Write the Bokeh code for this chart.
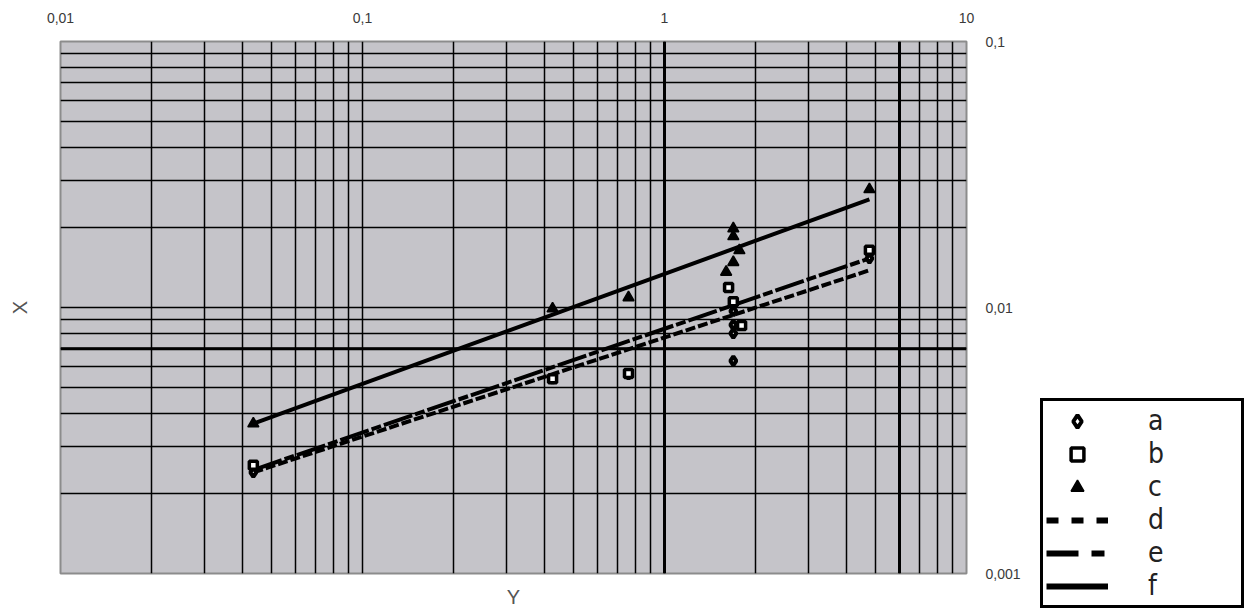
from bokeh.plotting import figure
from bokeh.models import (FixedTicker, Span, Legend, LegendItem, Range1d,
                          LogAxis, Spacer)
from bokeh.layouts import row, column
from bokeh.embed import file_html
from bokeh.resources import INLINE

# ---- data ----
a_x = [0.0435, 0.426, 0.76, 1.69, 1.69, 1.69, 1.69, 4.77]
a_y = [0.00240, 0.0054, 0.0056, 0.0097, 0.0086, 0.0080, 0.0063, 0.0153]

b_x = [0.0435, 0.426, 0.76, 1.63, 1.69, 1.80, 4.77]
b_y = [0.00255, 0.0054, 0.00565, 0.0119, 0.0105, 0.00855, 0.0164]

c_x = [0.0435, 0.426, 0.76, 1.69, 1.69, 1.77, 1.69, 1.60, 4.77]
c_y = [0.00366, 0.0099, 0.0109, 0.0198, 0.0185, 0.0164, 0.0148, 0.0136, 0.0278]

d_x = [0.0435, 4.77]
d_y = [0.00240, 0.0138]
e_x = [0.0435, 4.77]
e_y = [0.00245, 0.0153]
f_x = [0.0435, 4.77]
f_y = [0.00366, 0.0255]

x_major = [0.01, 0.1, 1, 10]
x_labels = ["0,01", "0,1", "1", "10"]
y_major = [0.001, 0.01, 0.1]
y_labels = ["0,001", "0,01", "0,1"]
thick_x = [1, 6]
thick_y = [0.007]

series_names = ["a", "b", "c", "d", "e", "f"]
x_title = "X"
y_title = "Y"

# ---- main figure ----
p = figure(width=1038, height=614, x_axis_type="log", y_axis_type="log",
           x_range=Range1d(0.01, 10), y_range=Range1d(0.001, 0.1),
           x_axis_location="above", y_axis_location="right",
           output_backend="svg", toolbar_location=None,
           min_border_left=60, min_border_right=72,
           min_border_top=41, min_border_bottom=41)

p.background_fill_color = "#c5c4c9"
p.border_fill_color = "white"
p.outline_line_color = "#8c8c8c"
p.outline_line_width = 2

def minors(majors):
    out = []
    for m in majors[:-1]:
        out += [m * k for k in range(2, 10)]
    return out

top_ax = p.xaxis[0]
right_ax = p.yaxis[0]
top_ax.ticker = FixedTicker(ticks=x_major, minor_ticks=minors(x_major))
right_ax.ticker = FixedTicker(ticks=y_major, minor_ticks=minors(y_major))
top_ax.major_label_overrides = {v: s for v, s in zip(x_major, x_labels)}
right_ax.major_label_overrides = {v: s for v, s in zip(y_major, y_labels)}

for ax in (top_ax, right_ax):
    ax.axis_line_color = None
    ax.major_tick_line_color = None
    ax.minor_tick_line_color = None
    ax.major_label_text_font = "Liberation Sans"
    ax.major_label_text_font_size = "14px"
    ax.major_label_text_color = "#3a3a3a"
    ax.major_label_standoff = 13

for g in (p.xgrid, p.ygrid):
    g.grid_line_color = "black"
    g.grid_line_width = 1.5
    g.grid_line_alpha = 1
    g.minor_grid_line_color = "black"
    g.minor_grid_line_width = 1.5

# axis titles on their own (tick-less) axes
left_ax = LogAxis(axis_label=x_title, ticker=FixedTicker(ticks=[]),
                  axis_line_color=None, major_tick_line_color=None,
                  minor_tick_line_color=None, axis_label_standoff=30,
                  axis_label_text_font="Liberation Sans",
                  axis_label_text_font_style="normal",
                  axis_label_text_font_size="20px",
                  axis_label_text_color="#555555")
p.add_layout(left_ax, "left")
bottom_ax = LogAxis(axis_label=y_title, ticker=FixedTicker(ticks=[]),
                    axis_line_color=None, major_tick_line_color=None,
                    minor_tick_line_color=None, axis_label_standoff=12,
                    axis_label_text_font="Liberation Sans",
                    axis_label_text_font_style="normal",
                    axis_label_text_font_size="20px",
                    axis_label_text_color="#555555")
p.add_layout(bottom_ax, "below")

for v in thick_x:
    p.add_layout(Span(location=v, dimension="height", line_color="black", line_width=3))
for v in thick_y:
    p.add_layout(Span(location=v, dimension="width", line_color="black", line_width=3))

# lines
p.line(d_x, d_y, line_color="black", line_width=4, line_dash="10 3")
p.line(e_x, e_y, line_color="black", line_width=4, line_dash="30 3 10 3")
p.line(f_x, f_y, line_color="black", line_width=4)

# markers
MK = dict(
    a=dict(marker="diamond", size=9, fill_color="white", line_color="black", line_width=4),
    b=dict(marker="square", size=8, fill_color="white", line_color="black", line_width=3.5),
    c=dict(marker="triangle", size=11, fill_color="black", line_color="black", line_width=1.5),
)
p.scatter(a_x, a_y, **MK["a"])
p.scatter(b_x, b_y, **MK["b"])
p.scatter(c_x, c_y, **MK["c"])

# ---- legend panel (series drawn out of view, only their legend keys show) ----
p2 = figure(width=206, height=214, x_range=Range1d(1000, 1001),
            y_range=Range1d(1000, 1001),
            x_axis_location=None, y_axis_location=None,
            output_backend="svg", toolbar_location=None,
            min_border=0)
p2.grid.visible = False
p2.outline_line_color = None
p2.background_fill_color = "white"

la = p2.scatter(a_x, a_y, **MK["a"])
lb = p2.scatter(b_x, b_y, **MK["b"])
lc = p2.scatter(c_x, c_y, **MK["c"])
ld = p2.line(d_x, d_y, line_color="black", line_width=6, line_dash="12 13")
le = p2.line(e_x, e_y, line_color="black", line_width=6, line_dash="32 13 13 13")
lf = p2.line(f_x, f_y, line_color="black", line_width=6)

legend = Legend(items=[LegendItem(label=n, renderers=[r]) for n, r in
                       zip(series_names, [la, lb, lc, ld, le, lf])],
                location="top_left", margin=2,
                border_line_color="black", border_line_width=3,
                border_line_alpha=1,
                background_fill_color="white", background_fill_alpha=1,
                padding=3, spacing=0,
                glyph_width=62, glyph_height=32,
                label_standoff=40, label_width=90, label_height=32,
                label_text_font="Liberation Sans Narrow, DejaVu Sans Condensed, sans-serif",
                label_text_font_size="28px", label_text_color="#222222",
                label_text_baseline="middle")
p2.add_layout(legend, "center")

layout = row(p, column(Spacer(width=206, height=396), p2))
open("out.html", "w").write(file_html(layout, INLINE))
